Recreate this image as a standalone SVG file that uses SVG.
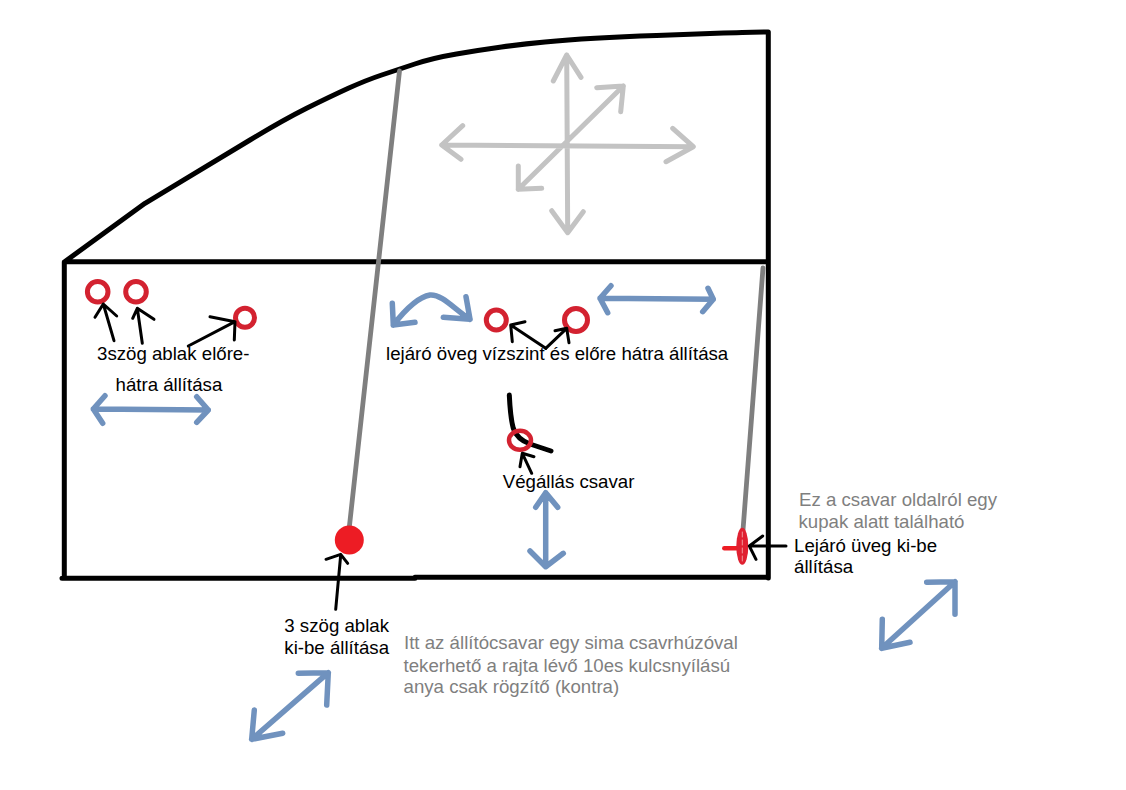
<svg xmlns="http://www.w3.org/2000/svg" width="1126" height="790" viewBox="0 0 1126 790">
<style>
path{fill:none;stroke-linecap:round;stroke-linejoin:round}
.k{stroke:#000;stroke-width:5}
.g{stroke:#7f7f7f;stroke-width:4.800}
.a{stroke:#000;stroke-width:3}
.b{stroke:#7092be;stroke-width:5.500}
.l{stroke:#c3c3c3;stroke-width:5}
.r{fill:none;stroke:#d32230;stroke-width:5}
text{font-family:"Liberation Sans",Arial,sans-serif;font-size:18.670px;fill:#000}
.n{fill:#7f7f7f}
</style>
<rect width="1126" height="790" fill="#fff"/>
<g id="frame">
<path class="k" d="M65 261.500L145 203.300L181 181.600Q216.700 160 250 140Q283.300 120 306.600 108.300Q330 96.700 348.300 88.300Q366.700 80 381.700 75Q396.700 70 414.800 64Q433 58 456.500 54Q480 50 501.500 47Q523 44 545 42Q567 40 595 38.300Q623 36.700 656.500 35.500Q690 34.300 723.500 33.100Q757 32 768.300 32V578M65 261.700H768M64.300 262V578M62 578.300H415M415 577.300H768"/>
<path class="g" d="M399.500 71L349 530M763 268L743 530"/>
</g>
<g id="direction-cross">
<path class="l" d="M566.700 55L567.700 232.700M553.300 81L566.700 55L581 77.300M551.700 210.700L567.700 232.700L583.300 211.700M441.700 145L693.300 146.700M462.700 125.700L441.700 145L461 159.300M672.700 128.300L693.300 146.700L666 161.700M518.300 189.300L623.300 86M596.700 87.700L623.300 86L620.700 111.700M518.300 166L518.300 189.300L541.700 188.300"/>
</g>
<g id="screw-1"><circle class="r" cx="97.700" cy="291.700" r="10.300"/></g>
<g id="screw-2"><circle class="r" cx="136" cy="291.700" r="10.300"/></g>
<g id="screw-3"><circle class="r" cx="245" cy="317.700" r="9.500"/></g>
<g id="screw-4"><circle class="r" cx="496.300" cy="320" r="10"/></g>
<g id="screw-5"><circle class="r" cx="576" cy="320" r="11.500"/></g>
<g id="stop-screw">
<path class="k" d="M509.300 395C510 410 511 420 513.300 428.300C516 436 522 441 530 444L551 451"/>
<ellipse class="r" cx="520" cy="440.300" rx="11" ry="9.500" style="stroke-width:4.500"/>
</g>
<g id="triangle-window-bolt"><circle cx="349.300" cy="540" r="14.500" fill="#ed1c24"/></g>
<g id="glass-bolt">
<path d="M724.300 548.300H742" stroke="#ed1c24" stroke-width="4.500"/>
<ellipse cx="742.300" cy="546.300" rx="6" ry="18.500" fill="#e02030"/>
<path d="M742.300 532V562" stroke="#f4b8b8" stroke-width="0.800" stroke-dasharray="5 3"/>
</g>
<g id="connectors">
<path class="a" d="M114 340.700L103.300 304M95 317.300L103.300 304L116.700 316"/>
<path class="a" d="M142.300 343.300L137.300 308.300M132.700 318.300L137.300 308.300L154 319.300"/>
<path class="a" d="M188.300 346L235 321.700M210 316.700L235 321.700L234.300 340"/>
<path class="a" d="M545.700 348.300L510.700 325M525 321.700L510.700 325L512.300 341.700"/>
<path class="a" d="M545.700 348.300L566.700 328.300M555 330.700L566.700 328.300L569 342.700"/>
<path class="a" d="M531.700 473.300L522.300 453.300M534 456.700L522.300 453.300L520 466.700"/>
<path class="a" d="M335.700 609.300L340.700 555M326 559.300L340.700 554.300L347.700 563.300"/>
<path class="a" d="M786 546L749.300 546M762.700 536L749.300 546L756 559.300"/>
</g>
<g id="movement-arrows">
<path class="b" d="M93.300 409L208.300 410M105 395.700L93.300 409L102.700 423.300M196.700 396.700L208.300 410L196.700 422.300"/>
<path class="b" d="M393.300 325C405 310 418 297 430 295C442 294 455 310 470 319.300M392.300 303.300L393.300 325L415 322.300M466 296.700L470 319.300L443.300 317.300"/>
<path class="b" d="M600 298.300L713.300 299.300M611 285.700L600 298.300L607.700 312.700M708 288.300L713.300 299.300L702.700 311.700"/>
<path class="b" d="M545.700 492.700L545.700 566.700M535.700 507.300L545.700 492.700L557.700 507.300M530 551L545.700 566.700L563.300 553.300"/>
<path class="b" d="M881.700 648.300L955 581.700M926.700 582.300L955 581.700L955 614.300M882.300 619.300L881.700 648.300L910 642.300"/>
<path class="b" d="M251.700 739.300L328.300 672.700M298.300 673.300L328.300 672.700L326.700 705M254.300 710L251.700 739.300L282.700 733.300"/>
</g>
<g id="labels">
<text x="97" y="359.500">3szög ablak előre-</text>
<text x="115.500" y="391">hátra állítása</text>
<text x="386" y="359.500">lejáró öveg vízszint és előre hátra állítása</text>
<text x="502.700" y="488.300">Végállás csavar</text>
<text x="284.300" y="631.700">3 szög ablak</text>
<text x="284.300" y="654">ki-be állítása</text>
<text x="794" y="551.700">Lejáró üveg ki-be</text>
<text x="794" y="573.300">állítása</text>
<text class="n" x="799" y="506">Ez a csavar oldalról egy</text>
<text class="n" x="798.500" y="528.300">kupak alatt található</text>
<text class="n" x="404" y="649.300">Itt az állítócsavar egy sima csavrhúzóval</text>
<text class="n" x="403.500" y="671.700">tekerhető a rajta lévő 10es kulcsnyílású</text>
<text class="n" x="403.500" y="693.300">anya csak rögzítő (kontra)</text>
</g>
</svg>
